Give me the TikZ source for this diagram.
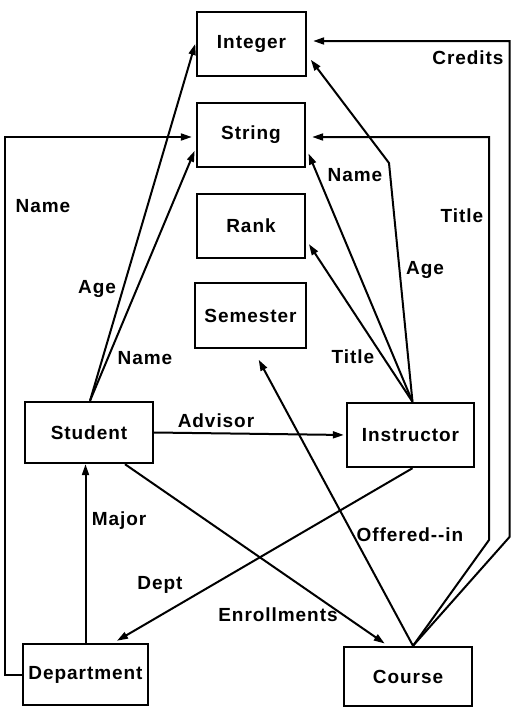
\documentclass[tikz,border=0pt]{standalone}
\usepackage{fontspec}
\setmainfont{Liberation Sans}[LetterSpace=5]
\usetikzlibrary{arrows.meta,calc}
\begin{document}
\begin{tikzpicture}[x=1pt,y=-1pt,
  box/.style={draw,line width=2.4pt,inner sep=0pt,font=\fontsize{19}{21}\selectfont\bfseries},
  lbl/.style={inner sep=0pt,font=\fontsize{19}{21}\selectfont\bfseries},
  link/.style={line width=2pt,-{Triangle[length=11pt,width=7pt]},shorten >=4pt}]
\useasboundingbox (0,0) rectangle (511,707);

% nodes
\node[box,minimum width=109pt,minimum height=64pt] (integer) at (251.5,44) {Integer};
\node[box,minimum width=108pt,minimum height=64pt] (string) at (251,135) {String};
\node[box,minimum width=108pt,minimum height=64pt] (rank) at (251,226) {Rank};
\node[box,minimum width=111pt,minimum height=65pt] (semester) at (250.5,315.5) {Semester};
\node[box,minimum width=128pt,minimum height=61pt] (student) at (89,432.5) {Student};
\node[box,minimum width=127pt,minimum height=64pt] (instructor) at (410.5,435) {Instructor};
\node[box,minimum width=125pt,minimum height=61pt] (department) at (85.5,674.5) {Department};
\node[box,minimum width=128pt,minimum height=59pt] (course) at (408,676.5) {Course};

% helper coordinates
\coordinate (ss) at ([xshift=1pt]student.north);
\coordinate (is) at ([xshift=2pt]instructor.north);
\coordinate (cs) at ([xshift=5pt]course.north);
\coordinate (dnl) at (5,674.5);
\coordinate (ia) at (389,163);
\coordinate (ct1) at (489,540);
\coordinate (ct2) at (489,137);
\coordinate (cr1) at (509.5,537);
\coordinate (cr2) at (509.5,41);

% student attributes
\draw[link,shorten >=2pt] (ss) -- ([yshift=2pt]integer.west);
\draw[link,shorten >=3pt] (ss) -- ([yshift=-13pt]string.west);
% department name
\draw[link] (department.west) -- (dnl) |- ([yshift=-2pt]string.west);
% instructor attributes
\draw[link,shorten >=6pt] (is) -- (ia) -- ([yshift=-11pt]integer.east);
\draw[link,shorten >=6pt] (is) -- ([yshift=-13pt]string.east);
\draw[link,shorten >=5pt] (is) -- ([yshift=-14pt]rank.east);
% course attributes
\draw[link,shorten >=6pt] (cs) -- (ct1) -- (ct2) -- ([yshift=-2pt]string.east);
\draw[link,shorten >=6pt] (cs) -- (cr1) -- (cr2) -- ([yshift=3pt]integer.east);
\draw[link,shorten >=12pt] (cs) -- ([xshift=2.5pt]semester.south);
% relationships
\draw[link,shorten >=2pt] (student.east) -- (instructor.west);
\draw[link,shorten >=0pt] (department.north) -- (department.north |- student.south);
\draw[link,shorten >=4pt] ([xshift=2pt]instructor.south) -- ([xshift=28pt]department.north);
\draw[link,shorten >=4pt] ([xshift=36pt]student.south) -- ([xshift=-20pt]course.north);

% labels
\node[lbl] (lcredits) at (468,58) {Credits};
\node[lbl] (ltitle1) at (462,216) {Title};
\node[lbl] (lname1) at (355,175) {Name};
\node[lbl] (lname2) at (43,206) {Name};
\node[lbl] (lage1) at (425,270) {Age};
\node[lbl] (lage2) at (97,289) {Age};
\node[lbl] (lname3) at (145,358) {Name};
\node[lbl] (ltitle2) at (353,357) {Title};
\node[lbl] (ladvisor) at (216,421) {Advisor};
\node[lbl] (lmajor) at (119,521) {Major};
\node[lbl] (loffered) at (410,535) {Offered-{}-in};
\node[lbl] (ldept) at (160,585) {Dept};
\node[lbl] (lenroll) at (278,615) {Enrollments};
\end{tikzpicture}
\end{document}
